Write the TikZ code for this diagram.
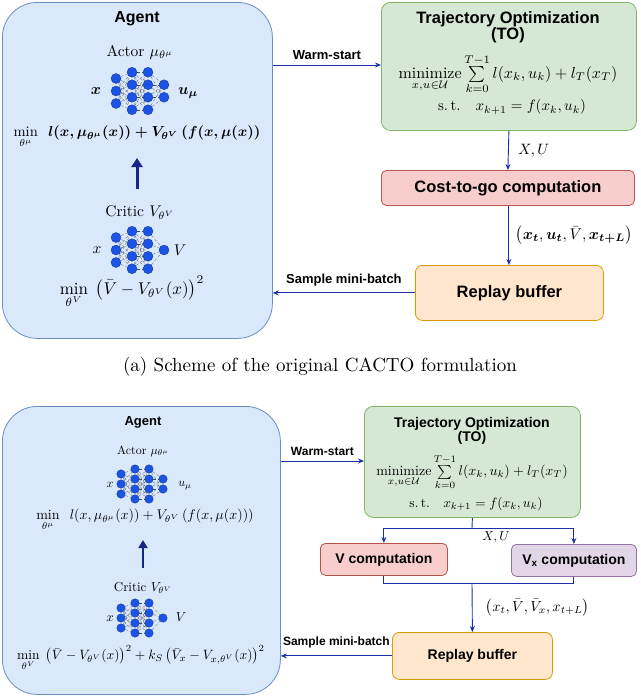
\documentclass[tikz,border=0pt]{standalone}
\usepackage{amsmath,amssymb}
\usepackage{fontspec}
\newfontfamily\sansf{Liberation Sans}
\usetikzlibrary{arrows.meta}
\definecolor{agentfill}{HTML}{DAE8FC}\definecolor{agentdraw}{HTML}{6C8EBF}
\definecolor{tofill}{HTML}{D5E8D4}\definecolor{todraw}{HTML}{82B366}
\definecolor{redfill}{HTML}{F8CECC}\definecolor{reddraw}{HTML}{B85450}
\definecolor{orfill}{HTML}{FFE6CC}\definecolor{ordraw}{HTML}{D79B00}
\definecolor{pufill}{HTML}{E1D5E7}\definecolor{pudraw}{HTML}{9673A6}
\definecolor{arr}{HTML}{1C2FA8}\definecolor{neur}{HTML}{1A53E6}
\tikzset{
 box/.style={draw=#1,line width=0.8pt,rounded corners=9pt},
 conn/.style={draw=arr,line width=0.9pt,-{Stealth[length=6pt,width=5pt]}},
 line/.style={draw=arr,line width=0.9pt},
 neuron/.style={circle,fill=neur,draw=neur!60!black,line width=0.3pt,inner sep=0pt,minimum size=#1},
 syn/.style={draw=black!70,densely dashed,line width=0.25pt},
 ttl/.style={font=\sansf\bfseries\fontsize{#1}{#1}\selectfont,align=center},
 lbl/.style={font=\sansf\bfseries\fontsize{#1}{#1}\selectfont},
 fs/.style={font=\normalsize,scale=#1/10,transform shape},
}
% #1 prefix, #2 x, #3 y, #4 hx spacing, #5 vy spacing, #6 last count, #7 neuron size
\newcommand{\mynet}[7]{%
 \foreach \l/\n in {1/3,2/4,3/4,4/#6}{%
  \foreach \i in {1,...,\n}{%
   \node[neuron=#7] (#1\l-\i) at ({#2+(\l-2.5)*#4},{#3+(\i-(\n+1)/2)*#5}) {};}}
 \foreach \a/\na/\b/\nb in {1/3/2/4,2/4/3/4,3/4/4/#6}{%
  \foreach \i in {1,...,\na}{\foreach \j in {1,...,\nb}{%
   \path[syn] (#1\a-\i) -- (#1\b-\j);}}}
}
\begin{document}
\begin{tikzpicture}[x=1pt,y=-1pt]
\useasboundingbox (0,0) rectangle (640,696);
%%%%% TOP
\node[box=agentdraw,fill=agentfill,rounded corners=35pt,minimum width=270pt,minimum height=336pt,anchor=north west] (agA) at (2,2) {};
\node[ttl=16] (agAt) at (137,19) {Agent};
\node[fs=15.5] (actA) at (140,52) {Actor $\mu_{\theta^\mu}$};
\mynet{aa}{140}{91}{16}{12.5}{2}{10pt}
\node[fs=15.5] (axA) at (96,91) {$\boldsymbol{x}$};
\node[fs=15.5] (auA) at (188,93) {$\boldsymbol{u_\mu}$};
\node[fs=14.5] (aeqA) at (137,137) {$\min\limits_{\theta^\mu}\;\; \boldsymbol{l(x,\mu_{\theta^\mu}(x)) + V_{\theta^V}\,(f(x,\mu(x))}$};
\coordinate (thA1) at (137,189); \coordinate (thA2) at (137,158);
\draw[draw=arr!80!black,line width=3pt,-{Triangle[length=9pt,width=11pt]}] (thA1) -- (thA2);
\node[fs=15.5] (crA) at (140,213) {Critic $V_{\theta^V}$};
\mynet{ca}{140}{250}{16}{12.5}{1}{10pt}
\node[fs=15.5] (cxA) at (97,250) {$x$};
\node[fs=15.5] (cvA) at (180,250) {$V$};
\node[fs=17] (ceqA) at (132,292) {$\min\limits_{\theta^V}\;\left(\bar V - V_{\theta^V}(x)\right)^2$};
\node[box=todraw,fill=tofill,minimum width=255pt,minimum height=128pt,anchor=north west] (toA) at (381,2) {};
\node[ttl=16.5] (toAt) at (508,27) {Trajectory Optimization\\(TO)};
\node[fs=16] (toAe) at (508,74) {$\operatorname*{minimize}\limits_{x,u\in\mathcal U}\sum\limits_{k=0}^{T-1} l(x_k,u_k)+l_T(x_T)$};
\node[fs=15] (toAs) at (512,107) {s.\,t.\;\; $x_{k+1}=f(x_k,u_k)$};
\node[box=reddraw,fill=redfill,rounded corners=5pt,minimum width=253pt,minimum height=35pt,anchor=north west,lbl=16.5] (ctg) at (381,170) {Cost-to-go computation};
\node[box=ordraw,fill=orfill,rounded corners=7pt,minimum width=188pt,minimum height=55pt,anchor=north west,lbl=16.5] (rbA) at (415,265) {Replay buffer};
\draw[conn] (agA.east |- 0,65) -- (toA.west |- 0,65) node[midway,above=2pt,lbl=13,text=black] {Warm-start};
\draw[conn] (toA.south) -- (ctg.north) node[midway,right=4pt,fs=15] {$X,U$};
\draw[conn] (ctg.south -| toA.south) -- (rbA.north -| toA.south) node[midway,right=1pt,fs=15.5] {$\left(\boldsymbol{x_t},\boldsymbol{u_t},\bar V,\boldsymbol{x_{t+L}}\right)$};
\draw[conn] (rbA.west) -- (agA.east |- rbA.west) node[midway,above=3pt,lbl=13,text=black] {Sample mini-batch};
\node[fs=19] (capA) at (320,367) {(a) Scheme of the original CACTO formulation};
%%%%% BOTTOM
\node[box=agentdraw,fill=agentfill,rounded corners=35pt,minimum width=278pt,minimum height=288pt,anchor=north west] (agB) at (2,406) {};
\node[ttl=13] (agBt) at (143,422) {Agent};
\node[fs=12] (actB) at (143,451) {Actor $\mu_{\theta^\mu}$};
\mynet{ab}{142}{484}{14}{10}{2}{8.5pt}
\node[fs=12] (axB) at (110,485) {$x$};
\node[fs=12] (auB) at (185,486) {$u_\mu$};
\node[fs=14] (aeqB) at (145,520) {$\min\limits_{\theta^\mu}\;\; l(x,\mu_{\theta^\mu}(x)) + V_{\theta^V}\,(f(x,\mu(x)))$};
\coordinate (thB1) at (143,568); \coordinate (thB2) at (143,540);
\draw[draw=arr!80!black,line width=2.5pt,-{Triangle[length=8pt,width=9pt]}] (thB1) -- (thB2);
\node[fs=13] (crB) at (143,588) {Critic $V_{\theta^V}$};
\mynet{cb}{142}{618}{14}{10}{1}{8.5pt}
\node[fs=13] (cxB) at (110,619) {$x$};
\node[fs=13] (cvB) at (181,617) {$V$};
\node[fs=13.5] (ceqB) at (141,658) {$\min\limits_{\theta^V}\;\left(\bar V - V_{\theta^V}(x)\right)^2 + k_S\left(\bar V_x - V_{x,\theta^V}(x)\right)^2$};
\node[box=todraw,fill=tofill,minimum width=216pt,minimum height=111pt,anchor=north west] (toB) at (364,406) {};
\node[ttl=14] (toBt) at (472,431) {Trajectory Optimization\\(TO)};
\node[fs=14] (toBe) at (472,472) {$\operatorname*{minimize}\limits_{x,u\in\mathcal U}\sum\limits_{k=0}^{T-1} l(x_k,u_k)+l_T(x_T)$};
\node[fs=13.5] (toBs) at (476,504) {s.\,t.\;\; $x_{k+1}=f(x_k,u_k)$};
\node[box=reddraw,fill=redfill,rounded corners=5pt,minimum width=127pt,minimum height=32pt,anchor=north west,lbl=14] (vc) at (320,543) {V computation};
\node[box=pudraw,fill=pufill,rounded corners=5pt,minimum width=125pt,minimum height=32pt,anchor=north west,lbl=14] (vxc) at (511,544) {V\textsubscript{x} computation};
\node[box=ordraw,fill=orfill,rounded corners=7pt,minimum width=160pt,minimum height=47pt,anchor=north west,lbl=14] (rbB) at (392,632) {Replay buffer};
\coordinate (spl) at (472,528); \coordinate (mrg) at (472,583);
\draw[line] (toB.south) -- (spl);
\draw[conn] (spl) -| (vc.north);
\draw[conn] (spl) -| (vxc.north);
\node[fs=13] (xuB) at (496,537) {$X,U$};
\draw[line] (vc.south) |- (mrg);
\draw[line] (vxc.south) |- (mrg);
\draw[conn] (mrg) -- (rbB.north) node[midway,right=8pt,fs=14.5] {$\left(x_t,\bar V,\bar V_x,x_{t+L}\right)$};
\draw[conn] (agB.east |- 0,461) -- (toB.west |- 0,461) node[midway,above=2pt,lbl=12,text=black] {Warm-start};
\draw[conn] (rbB.west) -- (agB.east |- rbB.west) node[midway,above=4pt,lbl=12,text=black] {Sample mini-batch};
\end{tikzpicture}
\end{document}
